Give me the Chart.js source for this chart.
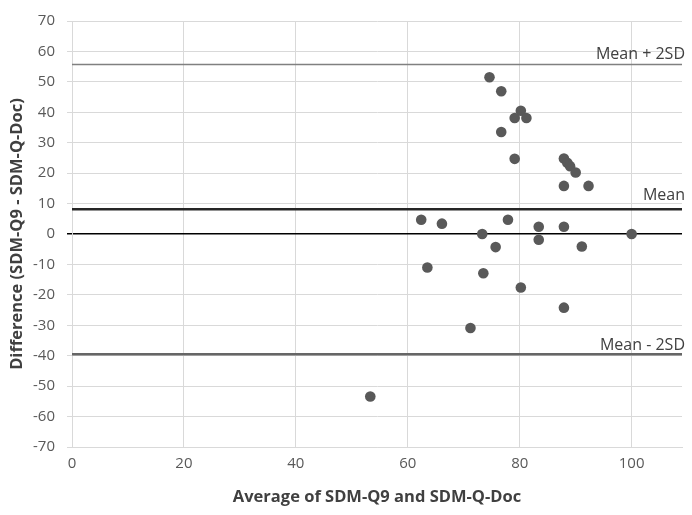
<!DOCTYPE html>
<html>
<head>
<meta charset="utf-8">
<script src="https://cdn.jsdelivr.net/npm/chart.js@4.4.1/dist/chart.umd.min.js"></script>
<style>
  html, body { margin: 0; padding: 0; background: #fff; }
  #wrap { width: 692px; height: 515px; }
</style>
</head>
<body>
<div id="wrap"><canvas id="grafico" width="692" height="515"></canvas></div>
<script>
// ===== DADOS =====
const averages = [74.6, 76.7, 80.2, 79.1, 81.2, 76.7, 79.1, 87.9, 88.5, 89.0, 90.0, 87.9, 92.3,
                  62.4, 66.1, 73.3, 77.9, 83.4, 87.9, 100, 83.4, 75.7, 91.1, 63.5, 73.5, 80.2,
                  87.9, 71.2, 53.3];
const differences = [51.5, 46.9, 40.5, 38.1, 38.1, 33.5, 24.7, 24.8, 23.4, 22.3, 20.2, 15.8, 15.8,
                     4.7, 3.4, 0, 4.7, 2.4, 2.4, 0, -1.9, -4.3, -4.1, -11.0, -12.9, -17.6,
                     -24.2, -30.9, -53.4];

const meanDiff = 8.1;
const upperLimit = 55.7;
const lowerLimit = -39.5;

const xMin = 0, xMax = 109;
const yMin = -70, yMax = 70;

const limitLabels = ["Mean + 2SD", "Mean", "Mean - 2SD"];
const limitValues = [upperLimit, meanDiff, lowerLimit];

const xTitle = "Average of SDM-Q9 and SDM-Q-Doc";
const yTitle = "Difference (SDM-Q9 - SDM-Q-Doc)";

const fonte = "'Open Sans', 'Liberation Sans', Arial, sans-serif";

// ===== PONTOS =====
const pontos = averages.map((x, i) => ({ x: x, y: differences[i] }));

function linhaHorizontal(v) {
    return [{ x: xMin, y: v }, { x: xMax, y: v }];
}

// ===== ROTULOS DAS LINHAS =====
const rotulosPlugin = {
    id: "rotulos",
    afterDatasetsDraw(chart) {
        const ctx = chart.ctx;
        const xs = chart.scales.x;
        const ys = chart.scales.y;
        const offsets = [6, 9, 4];
        ctx.save();
        ctx.font = "16px " + fonte;
        ctx.fillStyle = "#404040";
        ctx.textAlign = "right";
        ctx.textBaseline = "alphabetic";
        limitLabels.forEach((txt, i) => {
            const y = ys.getPixelForValue(limitValues[i]) - offsets[i];
            ctx.fillText(txt, xs.right + 3, y);
        });
        ctx.restore();
    }
};

const ctx = document.getElementById("grafico").getContext("2d");

window.grafico = new Chart(ctx, {
    type: "scatter",
    data: {
        datasets: [
            {
                label: "Mean + 2SD",
                data: linhaHorizontal(upperLimit),
                showLine: true,
                borderColor: "#808080",
                borderWidth: 1.5,
                pointRadius: 0
            },
            {
                label: "Mean",
                data: linhaHorizontal(meanDiff),
                showLine: true,
                borderColor: "#262626",
                borderWidth: 2.5,
                pointRadius: 0
            },
            {
                label: "Mean - 2SD",
                data: linhaHorizontal(lowerLimit),
                showLine: true,
                borderColor: "#666666",
                borderWidth: 2.5,
                pointRadius: 0
            },
            {
                label: "Difference",
                data: pontos,
                backgroundColor: "#595959",
                borderColor: "#595959",
                borderWidth: 0,
                pointRadius: 5.3
            }
        ]
    },
    options: {
        responsive: false,
        animation: false,
        layout: { padding: { top: 16, right: 10, left: 0, bottom: 0 } },
        plugins: {
            legend: { display: false },
            tooltip: { enabled: false }
        },
        scales: {
            x: {
                type: "linear",
                min: xMin,
                max: xMax,
                afterFit: (s) => { s.height = 68; },
                ticks: {
                    stepSize: 20,
                    includeBounds: false,
                    padding: 8,
                    color: "#595959",
                    font: { family: fonte, size: 15 }
                },
                grid: {
                    color: "#d9d9d9",
                    lineWidth: 1,
                    drawTicks: false
                },
                border: { color: "#d9d9d9" },
                title: {
                    display: true,
                    text: xTitle,
                    color: "#404040",
                    padding: { top: 0, bottom: 8 },
                    font: { family: fonte, size: 16.5, weight: "bold" }
                }
            },
            y: {
                type: "linear",
                min: yMin,
                max: yMax,
                afterFit: (s) => { s.width = 72; },
                ticks: {
                    stepSize: 10,
                    padding: 12,
                    color: "#595959",
                    font: { family: fonte, size: 15 }
                },
                grid: {
                    color: (c) => (c.tick && c.tick.value === 0 ? "#000000" : "#d9d9d9"),
                    lineWidth: (c) => (c.tick && c.tick.value === 0 ? 1.5 : 1),
                    tickLength: 5
                },
                border: { color: "#d9d9d9" },
                title: {
                    display: true,
                    text: yTitle,
                    color: "#404040",
                    padding: { top: 7, bottom: 0 },
                    font: { family: fonte, size: 16.5, weight: "bold" }
                }
            }
        }
    },
    plugins: [rotulosPlugin]
});
</script>
</body>
</html>
